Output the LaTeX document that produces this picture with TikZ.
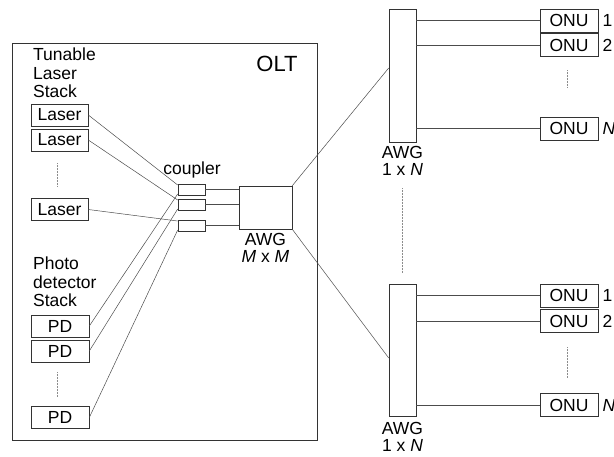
\documentclass[tikz,border=0pt]{standalone}
\usepackage{fontspec}
\setmainfont{Liberation Sans}
\usetikzlibrary{calc}
\tikzset{
  blk/.style={draw=black!80, line width=0.6pt, inner sep=0pt},
  fib/.style={draw=black!70, line width=0.5pt},
  vdots/.style={draw=black!45, densely dotted, line width=0.5pt},
  txt/.style={inner sep=0pt, align=left},
}
\begin{document}
\begin{tikzpicture}[x=1pt,y=-1pt,font=\fontsize{17.5}{18.5}\selectfont]
  \useasboundingbox (0,0) rectangle (614,456);
  % OLT
  \draw[blk] (12,43) rectangle (317,440);
  \node[font=\fontsize{22}{24}\selectfont] (olt) at (277,64) {OLT};
  \node[txt, anchor=north west] (lstack) at (33,48) {Tunable\\Laser\\Stack};
  \node[txt, anchor=north west] (pstack) at (33,257) {Photo\\detector\\Stack};
  % lasers and photo detectors
  \foreach \i/\y in {1/115, 2/140, 3/209.5}
  {
    \node[blk, minimum width=57pt, minimum height=22pt] (las\i) at (59.5,\y) {Laser};
  }
  \foreach \i/\y in {1/326, 2/351, 3/417.5}
  {
    \node[blk, minimum width=58pt, minimum height=22pt] (pd\i) at (60,\y) {PD};
  }
  \draw[vdots] (57,163) -- (57,187);
  \draw[vdots] (57,372) -- (57,397);
  % couplers
  \node[txt] (cpl) at (192,170) {coupler};
  \foreach \i/\y in {1/189.5, 2/204.5, 3/225.5}
  {
    \node[blk, minimum width=27pt, minimum height=11pt] (cp\i) at (191.5,\y) {};
  }
  \node[blk, minimum width=53pt, minimum height=43pt] (awgm) at (265.5,207.5) {};
  \node[txt, align=center, anchor=north, font=\fontsize{17.5}{17}\selectfont] (awgmlbl) at (265.5,233) {AWG\\\textit{M} x \textit{M}};
  \foreach \i in {1,2,3}
  {
    \draw[fib] (las\i.east) -- (cp\i.162);
    \draw[fib] (pd\i.east) -- (cp\i.198);
    \draw[fib] (cp\i.east) -- (cp\i.east -| awgm.west);
  }
  % remote nodes
  \node[blk, minimum width=27pt, minimum height=133pt] (awga) at (402.5,75.5) {};
  \node[blk, minimum width=27pt, minimum height=132pt] (awgb) at (402.5,350) {};
  \node[txt, align=center, anchor=north, font=\fontsize{17.5}{17}\selectfont] (awgalbl) at (402.5,146) {AWG\\1 x \textit{N}};
  \node[txt, align=center, anchor=north, font=\fontsize{17.5}{17}\selectfont] (awgblbl) at (402.5,422) {AWG\\1 x \textit{N}};
  \draw[fib] (awgm.north east) -- ($(awga.west)+(0,-7.5)$);
  \draw[fib] (awgm.south east) -- ($(awgb.west)+(0,8)$);
  \draw[vdots] (402,188) -- (402,273);
  \foreach \g/\i/\y/\t in {a/1/20.5/1, a/2/45/2, a/3/128.5/\textit{N}, b/1/295.5/1, b/2/321/2, b/3/405/\textit{N}}
  {
    \node[blk, minimum width=58pt, minimum height=23pt, label={[inner sep=1pt, label distance=3pt]right:\t}] (onu\g\i) at (569,\y) {ONU};
    \draw[fib] (onu\g\i.west -| awg\g.east) -- (onu\g\i.west);
  }
  \draw[vdots] (567,70) -- (567,88);
  \draw[vdots] (567,347) -- (567,378);
\end{tikzpicture}
\end{document}
